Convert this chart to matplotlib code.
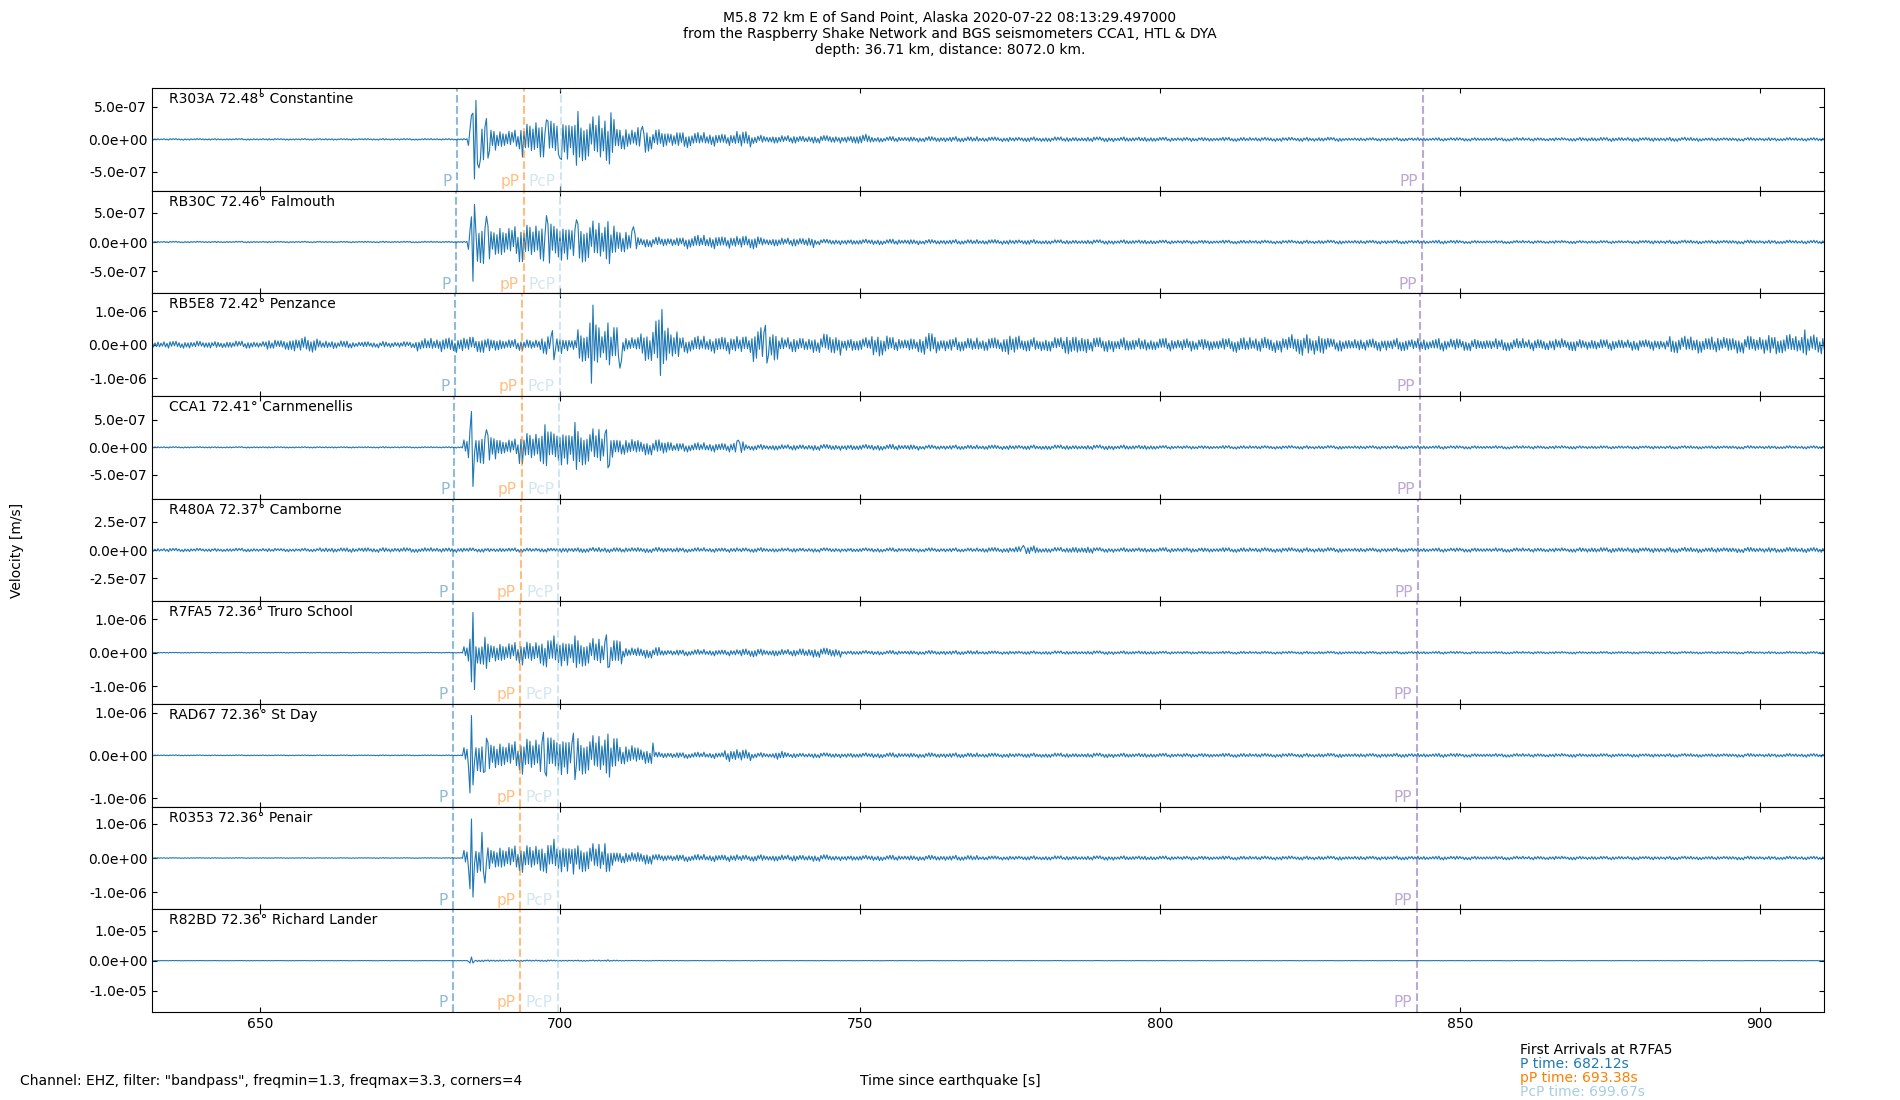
import numpy as np
import matplotlib.pyplot as plt
from matplotlib.ticker import FormatStrFormatter

stations = ["R303A", "RB30C", "RB5E8", "CCA1", "R480A", "R7FA5", "RAD67", "R0353", "R82BD"]
distances = [72.48, 72.46, 72.42, 72.41, 72.37, 72.36, 72.36, 72.36, 72.36]
places = ["Constantine", "Falmouth", "Penzance", "Carnmenellis", "Camborne",
          "Truro School", "St Day", "Penair", "Richard Lander"]

# arrival times [s] per station
phases = ["P", "pP", "PcP", "PP"]
phase_colors = ["#1f78b4", "#ff7f00", "#a6cee3", "#7b52ab"]
p_times = [682.79, 682.68, 682.46, 682.40, 682.18, 682.12, 682.12, 682.12, 682.12]
pp_depth_times = [694.05, 693.94, 693.72, 693.66, 693.44, 693.38, 693.38, 693.38, 693.38]
pcp_times = [700.17, 700.07, 699.95, 699.90, 699.74, 699.67, 699.67, 699.67, 699.67]
pp_times = [843.8, 843.7, 843.4, 843.3, 843.0, 842.9, 842.9, 842.9, 842.9]
ref_station = "R7FA5"

# y range and ticks [m/s]
y_limits = [7.9e-7, 8.75e-7, 1.53e-6, 9.3e-7, 4.57e-7, 1.53e-6, 1.2e-6, 1.5e-6, 1.71e-5]
y_steps = [5e-7, 5e-7, 1e-6, 5e-7, 2.5e-7, 1e-6, 1e-6, 1e-6, 1e-5]

# trace envelopes: (start time [s], amplitude [1e-7 m/s])
env_r303a = [(632, 0.12), (684.6, 1.5), (685.2, 4.0), (686.4, 3.0), (687.6, 2.2), (689.4, 1.4),
             (693.4, 2.6), (695.5, 3.0), (698.0, 3.3), (700.5, 3.4), (703.5, 3.3), (706.5, 3.6),
             (709.2, 1.8), (711.5, 1.5), (713.0, 1.9), (715.0, 1.4), (718.0, 1.2), (722.0, 1.0),
             (726.0, 0.9), (729.5, 1.3), (732.0, 0.6), (740.0, 0.55), (749.0, 0.75), (752.0, 0.4),
             (770.0, 0.35), (800.0, 0.3), (830.0, 0.25), (870.0, 0.3), (890.0, 0.25)]
env_rb30c = [(632, 0.12), (684.6, 2.0), (685.2, 3.5), (686.6, 3.5), (688.5, 2.8), (690.5, 2.6),
             (693.2, 3.2), (697.0, 3.6), (700.0, 3.3), (703.0, 3.4), (706.0, 3.2), (709.5, 2.0),
             (712.8, 0.8), (721.0, 1.1), (727.0, 1.0), (730.0, 1.1), (733.5, 0.7), (741.0, 0.9),
             (742.5, 0.45), (760.0, 0.4), (780.0, 0.35), (800.0, 0.3), (850.0, 0.25), (880.0, 0.3)]
env_rb5e8 = [(632, 1.0), (651, 1.4), (655, 2.2), (660, 1.2), (665, 0.9), (676, 1.8), (680, 2.2),
             (690, 1.6), (697, 2.8), (700.5, 2.0), (703, 5.0), (704.8, 9.0), (706.5, 5.0),
             (707.8, 6.0), (710.5, 2.2), (713.5, 4.5), (715.5, 7.0), (718.5, 4.5), (720, 2.4),
             (726, 2.6), (732, 4.8), (736.5, 2.2), (744, 3.0), (747, 2.0), (752, 3.2), (755, 2.0),
             (760, 3.2), (763, 2.0), (774, 3.0), (777, 2.0), (784, 3.0), (788, 2.0), (797, 1.8),
             (812, 2.2), (822, 3.0), (828, 1.8), (850, 1.7), (870, 1.6), (885, 2.4), (900, 2.9)]
env_cca1 = [(632, 0.12), (684.0, 1.5), (684.6, 3.0), (686.0, 2.8), (689.6, 1.5), (693.2, 2.8),
            (697.0, 3.3), (700.0, 3.4), (703.0, 3.2), (706.0, 3.2), (709.0, 1.5), (713.0, 1.3),
            (718.6, 0.8), (729.0, 1.2), (731.0, 0.5), (760.0, 0.4), (800.0, 0.3), (850.0, 0.28)]
env_r480a = [(632, 0.15), (660, 0.2), (684, 0.18), (700, 0.22), (720, 0.2), (735, 0.18),
             (770, 0.22), (776, 0.35), (780, 0.22), (785, 0.3), (789, 0.2), (830, 0.18), (870, 0.22)]
env_r7fa5 = [(632, 0.1), (684.0, 2.0), (684.6, 4.0), (686.2, 3.3), (689.5, 3.0), (693.3, 3.5),
             (697.0, 4.2), (703.0, 4.0), (707.0, 4.2), (710.4, 1.5), (717.0, 0.9), (730.0, 1.2),
             (733.5, 1.0), (740.0, 1.3), (747.0, 0.6), (770.0, 0.5), (800.0, 0.4), (850.0, 0.35)]
env_rad67 = [(632, 0.1), (684.0, 2.0), (684.6, 4.0), (686.2, 3.8), (689.5, 3.2), (693.3, 4.2),
             (697.0, 4.8), (703.0, 4.4), (707.0, 4.6), (709.7, 2.4), (713.0, 1.8), (715.6, 0.7),
             (727.5, 1.4), (732.0, 0.6), (736.0, 1.0), (738.0, 0.55), (770.0, 0.5), (800.0, 0.45),
             (850.0, 0.4)]
env_r0353 = [(632, 0.1), (684.0, 2.5), (684.6, 4.5), (686.5, 3.8), (688.5, 3.5), (693.3, 4.0),
             (697.0, 4.3), (703.0, 4.0), (707.0, 3.8), (709.0, 1.7), (715.6, 1.0), (730.0, 0.9),
             (745.0, 0.75), (770.0, 0.6), (800.0, 0.55), (850.0, 0.5)]
env_r82bd = [(632, 0.6), (684.6, 4.0), (686.0, 3.0), (690.0, 2.5), (700.0, 2.0), (710.0, 1.0),
             (720.0, 0.6)]

# largest single swings: (time [s], velocity [1e-7 m/s])
peaks_r303a = [(685.25, 3.7), (685.75, -6.1), (686.0, 6.0), (686.5, -4.4), (687.75, 3.2),
               (688.0, -2.9), (697.75, 3.0), (700.0, -2.9), (702.75, -4.0), (703.0, 4.3),
               (708.25, -3.8), (708.5, 4.1), (713.75, 2.0)]
peaks_rb30c = [(685.25, 4.3), (685.5, -6.7), (685.75, 6.4), (687.75, 4.4), (697.75, 4.5),
               (698.25, -3.6), (702.75, 3.8), (708.0, 3.5), (708.25, -3.7), (712.25, 2.6)]
peaks_rb5e8 = [(698.75, 4.2), (699.0, -4.5), (705.25, -11.5), (705.5, 11.8), (708.0, 6.5),
               (710.0, -7.0), (716.75, -9.2), (717.0, 10.5), (734.25, 5.8), (734.5, -5.5),
               (907.5, 4.4)]
peaks_cca1 = [(685.25, 6.5), (685.5, -7.1), (687.75, 3.2), (697.5, 4.1), (702.5, 4.5),
              (702.75, -4.0), (707.75, 3.2), (708.0, -3.7), (729.75, 1.3)]
peaks_r480a = [(777.25, 0.4)]
peaks_r7fa5 = [(685.25, -8.7), (685.5, 12.0), (685.75, -11.0), (687.5, 4.6), (687.75, -4.7),
               (699.0, 5.0), (702.5, 5.0), (702.75, -4.4), (707.75, 5.3), (708.0, -4.4)]
peaks_rad67 = [(685.0, -8.8), (685.25, 9.3), (685.5, -6.9), (687.5, -3.8), (687.75, 4.0),
               (697.25, 5.4), (697.5, -4.0), (702.25, 5.2), (702.5, -5.7), (708.0, 5.0),
               (708.25, -5.1), (715.5, 2.9)]
peaks_r0353 = [(685.0, -9.0), (685.25, 11.4), (685.5, -11.4), (687.0, 7.5), (687.5, -7.3),
               (699.0, 5.5), (702.25, -4.7), (707.5, 4.2), (707.75, -4.0)]
peaks_r82bd = [(685.0, -8.0), (685.25, 12.0), (685.5, -8.0), (708.0, 3.0)]

envelopes = [env_r303a, env_rb30c, env_rb5e8, env_cca1, env_r480a,
             env_r7fa5, env_rad67, env_r0353, env_r82bd]
peaks = [peaks_r303a, peaks_rb30c, peaks_rb5e8, peaks_cca1, peaks_r480a,
         peaks_r7fa5, peaks_rad67, peaks_r0353, peaks_r82bd]

t0 = 632.0
dt = 0.25
t = t0 + dt * np.arange(int((911.0 - t0) / dt))

# fixed swing shape so the wiggles are not all the same height
shape_a = np.array([1.0, 0.7, 0.9, 0.55, 0.95, 0.8, 0.5])
shape_b = np.array([0.9, 1.0, 0.8, 0.95, 0.7, 1.0, 0.85, 0.75, 1.0, 0.8, 0.95])
shape_c = np.array([1.0, 0.85, 0.6, 0.95, 1.0, 0.7, 0.9, 0.5, 1.0, 0.8, 0.65, 1.0, 0.9])
n = np.arange(len(t))
swing = shape_a[n % 7] * shape_b[n % 11] * shape_c[n % 13] * np.where(n % 2 == 0, 1.0, -1.0)
swing = swing / 0.85


def make_trace(env, spikes):
    starts = np.array([e[0] for e in env])
    amps = np.array([e[1] for e in env])
    level = amps[np.searchsorted(starts, t, side="right") - 1]
    y = np.clip(level * swing, -1.05 * level, 1.05 * level)
    for pt, pv in spikes:
        y[int(round((pt - t0) / dt))] = pv
    return y * 1e-7


plt.rcParams["font.size"] = 10
fig, axes = plt.subplots(len(stations), 1, sharex=True, figsize=(19, 11), dpi=100)
fig.subplots_adjust(left=0.08, right=0.96, top=0.92, bottom=0.08, hspace=0)

for i, ax in enumerate(axes):
    ax.plot(t, make_trace(envelopes[i], peaks[i]), color="#1f77b4", linewidth=0.8)
    times = [p_times[i], pp_depth_times[i], pcp_times[i], pp_times[i]]
    for name, tp, col in zip(phases, times, phase_colors):
        ax.axvline(tp, color=col, linestyle="--", linewidth=1.5, alpha=0.5)
        ax.text(tp - 0.85, 0.045, name, color=col, alpha=0.5, fontsize=11,
                ha="right", va="baseline", transform=ax.get_xaxis_transform())
    ax.set_ylim(-y_limits[i], y_limits[i])
    ax.set_yticks([-y_steps[i], 0, y_steps[i]])
    ax.yaxis.set_major_formatter(FormatStrFormatter("%.1e"))
    ax.tick_params(direction="in", top=True, right=True)
    ax.text(0.01, 0.96, f"{stations[i]} {distances[i]:.2f}° {places[i]}",
            transform=ax.transAxes, va="top")

axes[-1].set_xlim(632.0, 910.7)
axes[-1].set_xticks([650, 700, 750, 800, 850, 900])

fig.text(0.5, 0.99, "M5.8 72 km E of Sand Point, Alaska 2020-07-22 08:13:29.497000\n"
         "from the Raspberry Shake Network and BGS seismometers CCA1, HTL & DYA\n"
         "depth: 36.71 km, distance: 8072.0 km.", ha="center", va="top")
fig.text(0.009, 0.5, "Velocity [m/s]", rotation=90, ha="center", va="center")
fig.text(0.5, 0.017, "Time since earthquake [s]", ha="center", va="center")
fig.text(0.0105, 0.017, 'Channel: EHZ, filter: "bandpass", freqmin=1.3, freqmax=3.3, corners=4',
         va="center")

r = stations.index(ref_station)
fig.text(0.8, 0.045, "First Arrivals at " + ref_station, va="center")
fig.text(0.8, 0.0325, f"P time: {p_times[r]:.2f}s", color=phase_colors[0], va="center")
fig.text(0.8, 0.02, f"pP time: {pp_depth_times[r]:.2f}s", color=phase_colors[1], va="center")
fig.text(0.8, 0.0075, f"PcP time: {pcp_times[r]:.2f}s", color=phase_colors[2], va="center")

plt.savefig("out.png")
